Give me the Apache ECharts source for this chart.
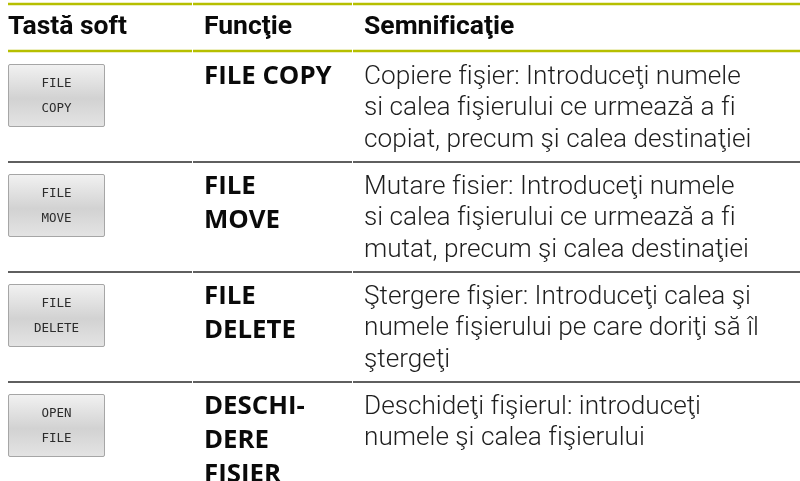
<!DOCTYPE html>
<html>
<head>
<meta charset="utf-8">
<script src="https://cdn.jsdelivr.net/npm/echarts@6/dist/echarts.min.js"></script>
<style>
html,body{margin:0;padding:0;background:#fff;}
#main{width:800px;height:481px;}
</style>
</head>
<body>
<div id="main"></div>
<script>
// ---- table content ----
const headers = ['Tastă soft', 'Funcţie', 'Semnificaţie'];
const softKeys = [
  ['FILE', 'COPY'],
  ['FILE', 'MOVE'],
  ['FILE', 'DELETE'],
  ['OPEN', 'FILE']
];
const functionNames = [
  ['FILE COPY'],
  ['FILE', 'MOVE'],
  ['FILE', 'DELETE'],
  ['DESCHI-', 'DERE', 'FIŞIER']
];
const meanings = [
  ['Copiere fişier: Introduceţi numele', 'si calea fişierului ce urmează a fi', 'copiat, precum şi calea destinaţiei'],
  ['Mutare fisier: Introduceţi numele', 'si calea fişierului ce urmează a fi', 'mutat, precum şi calea destinaţiei'],
  ['Ştergere fişier: Introduceţi calea şi', 'numele fişierului pe care doriţi să îl', 'ştergeţi'],
  ['Deschideţi fişierul: introduceţi', 'numele şi calea fişierului']
];

// ---- layout ----
const colEdges = [8, 192, 352, 800];
const textPad = [0, 12, 12];
const topLineY = 4;
const headLineY = 51;
const rowH = 110;
const olive = '#b6bf00';
const BODY_LH = 31.5, FUNC_LH = 34;

// avoid the "fi" ligature so the glyphs look like the reference
const noLig = s => s.replace(/f(?=i)/g, 'f\u200C');

const g = [];
function hline(y, color, w) {
  for (let c = 0; c < 3; c++) {
    g.push({ type: 'line', silent: true,
      shape: { x1: colEdges[c] + (c ? 1 : 0), y1: y, x2: colEdges[c + 1], y2: y },
      style: { stroke: color, lineWidth: w } });
  }
}
function txt(x, y, text, font, fill) {
  g.push({ type: 'text', silent: true, x: x, y: y,
    style: { text: noLig(text), font: font, fill: fill, align: 'left', verticalAlign: 'middle' } });
}

hline(topLineY, olive, 2.5);
hline(headLineY, olive, 2.5);
headers.forEach((h, c) => txt(colEdges[c] + textPad[c], 27.5, h, 'bold 26.5px Roboto', '#0a0a0a'));

softKeys.forEach((k, r) => {
  const top = headLineY + 1 + r * rowH;
  if (r > 0) hline(top, '#2a2a2a', 1.6);
  const bx = colEdges[0], by = top + 12, bw = 96, bh = 62;
  g.push({ type: 'rect', silent: true,
    shape: { x: bx + 0.5, y: by + 0.5, width: bw, height: bh, r: 1.5 },
    style: {
      fill: new echarts.graphic.LinearGradient(0, 0, 0, 1, [
        { offset: 0, color: '#f2f2f2' },
        { offset: 0.55, color: '#d2d2d2' },
        { offset: 1, color: '#e4e4e4' }
      ]),
      stroke: '#a6a6a6', lineWidth: 1
    } });
  k.forEach((line, i) => {
    g.push({ type: 'text', silent: true, x: bx + bw / 2 + 0.5, y: by + 19.5 + i * 25,
      style: { text: line, font: '12.5px "DejaVu Sans Mono"', fill: '#2c2c2c', align: 'center', verticalAlign: 'middle' } });
  });
  functionNames[r].forEach((line, i) => {
    txt(colEdges[1] + textPad[1], top + 34 - 9.8 + i * FUNC_LH, line, 'bold 25.8px "Open Sans"', '#0a0a0a');
  });
  meanings[r].forEach((line, i) => {
    txt(colEdges[2] + textPad[2], top + 34 - 8.8 + i * BODY_LH, line, '300 26.2px Roboto', '#1e1e1e');
  });
});

const chart = echarts.init(document.getElementById('main'), null, { renderer: 'canvas' });
chart.setOption({ backgroundColor: '#fff', animation: false, graphic: { elements: g } });
</script>
</body>
</html>
